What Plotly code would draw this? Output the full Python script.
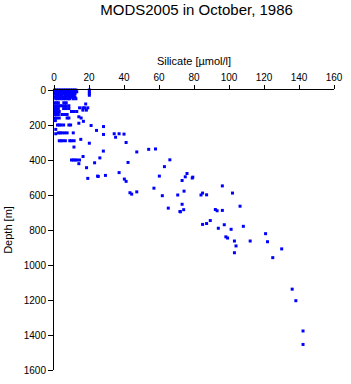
import plotly.graph_objects as go

title_text = "MODS2005 in October, 1986"
x_label = "Silicate [\u00b5mol/l]"
y_label = "Depth [m]"
x_ticks = [0, 20, 40, 60, 80, 100, 120, 140, 160]
y_ticks = [0, 200, 400, 600, 800, 1000, 1200, 1400, 1600]

# Silicate [umol/l] and depth [m]
silicate = [
    # surface dense cluster
    0.5, 1.5, 2.5, 3.5, 4.5, 5.5, 6.5, 7.5, 8.5, 9.5, 10.5, 11.5, 12.5, 20.2,
    1, 2, 3, 4, 5, 6, 7, 8, 9, 10, 11, 12, 13, 20.2,
    0.5, 1.5, 2.5, 3.5, 5, 6, 7.5, 8.5, 9.5, 11, 12, 20.2,
    1, 2, 3, 4, 4.5, 6.5, 8, 9, 10, 11.5, 20.2,
    0.5, 1.5, 2.5, 3.5, 5, 6, 7, 8.5, 9.5, 10.5, 12,
    1, 2, 3.5, 5, 6.5, 8, 9, 11, 12.5,
    # upper rows
    0.5, 1.5, 2.5, 5.6, 7.0,
    18.1,
    0.5, 1.5, 2.5, 3.5, 4.5, 6, 7, 8.5, 14.6, 16.5, 17.5, 19.3,
    0.5, 1.5, 2.5, 5.5, 7, 8.5, 16.5, 18.5,
    0.5, 1.5, 3, 10, 11.5, 13,
    0.5, 1.5, 2.5, 4.5, 6, 7.5,
    0.5, 1.5, 3, 7.5, 8.5, 14.2, 15.5,
    16.8, 14.2,
    2, 3, 4, 5.5, 8.5, 9.5, 21.2, 0.8,
    1, 24.3, 28.3,
    2.5, 3.5, 4.5, 6, 7.5, 11, 1.0,
    3, 4, 5, 6.5, 9, 10, 11.5, 15.3, 20.2,
    11.4,
    16.6,
    10, 11, 12, 13, 14.6, 14.2, 18.6,
    # mid rows
    28.3, 34.4, 35.2, 37.2, 40, 41.2, 28.2, 47.3, 54.1, 58,
    26.2, 23.2, 42.3, 66.2, 63.1,
    19.3, 24.9, 25.3, 29.4, 37.2, 40.2, 41.2, 60.2, 76, 75, 79.3, 73.2, 79,
    43.4, 44.4, 47.3, 57.1, 61.9, 70.7, 74.3, 84.9, 84, 87.2, 96.2, 102,
    65.3, 72.2, 74.1, 73.2, 72, 92.2, 93.2, 96.2, 106.3,
    84.9, 87.2, 89.3, 97.3, 93.9, 101.2, 108.2,
    98.2, 99.2, 103.1, 104, 103.1, 112.1, 120.9, 122, 130.1, 125,
    # deep
    136.1, 138.2, 142.3, 142.3,
]
depth = [
    0, 0, 0, 0, 0, 0, 0, 0, 0, 0, 0, 0, 0, 0,
    10, 10, 10, 10, 10, 10, 10, 10, 10, 10, 10, 10, 10, 10,
    20, 20, 20, 20, 20, 20, 20, 20, 20, 20, 20, 20,
    30, 30, 30, 30, 30, 30, 30, 30, 30, 30, 30,
    40, 40, 40, 40, 40, 40, 40, 40, 40, 40, 40,
    50, 50, 50, 50, 50, 50, 50, 50, 50,
    73, 73, 73, 73, 73,
    80,
    90, 90, 90, 90, 90, 90, 90, 90, 102, 102, 102, 102,
    106, 106, 106, 106, 106, 106, 115, 115,
    123, 123, 123, 123, 123, 123,
    140, 140, 140, 140, 140, 140,
    160, 160, 160, 160, 160, 153, 160,
    179, 190,
    200, 200, 200, 200, 200, 200, 203, 175,
    225, 231, 209,
    245, 245, 245, 245, 245, 245, 250,
    290, 290, 290, 290, 290, 290, 290, 282, 304,
    326,
    380,
    400, 400, 400, 400, 400, 421, 444,
    254, 250, 270, 250, 252, 300, 349, 354, 339, 337,
    388, 416, 414, 399, 438,
    505, 492, 494, 488, 472, 509, 522, 492, 477, 496, 498, 517, 503,
    587, 595, 582, 561, 604, 600, 578, 589, 600, 599, 548, 589,
    675, 696, 684, 653, 694, 683, 690, 688, 664,
    768, 763, 746, 770, 790, 796, 779,
    839, 846, 863, 891, 930, 863, 821, 867, 908, 958,
    1138, 1204, 1377, 1454,
]

fig = go.Figure()
fig.add_trace(go.Scatter(
    x=silicate, y=depth, mode="markers",
    marker=dict(symbol="square", size=3, color="#0000ff", line=dict(width=0)),
    cliponaxis=False, hoverinfo="skip",
))

font_family = "Liberation Sans, Arial, sans-serif"
fig.update_layout(
    width=351, height=384,
    margin=dict(l=54, r=12, t=90, b=8),
    paper_bgcolor="white", plot_bgcolor="white",
    showlegend=False,
    font=dict(family=font_family, color="black", size=10),
    title=dict(text=title_text, x=0.56, xanchor="center",
               yref="container", y=0.975, yanchor="middle",
               font=dict(size=15, family=font_family, color="black")),
    xaxis=dict(side="top", range=[0, 160], tickvals=x_ticks,
               ticktext=[str(v) for v in x_ticks],
               ticks="outside", ticklen=4, tickwidth=1, tickcolor="black",
               showline=True, linecolor="black", linewidth=1,
               showgrid=False, zeroline=False,
               tickfont=dict(size=10),
               title=dict(text=x_label, font=dict(size=11), standoff=4)),
    yaxis=dict(range=[1600, 0], tickvals=y_ticks,
               ticktext=[str(v) for v in y_ticks],
               ticks="outside", ticklen=5, tickwidth=1, tickcolor="black",
               showline=True, linecolor="black", linewidth=1,
               showgrid=False, zeroline=False,
               tickfont=dict(size=10),
               title=dict(text=y_label, font=dict(size=11), standoff=8)),
)

fig.write_html("out.html", config={"displayModeBar": False})
